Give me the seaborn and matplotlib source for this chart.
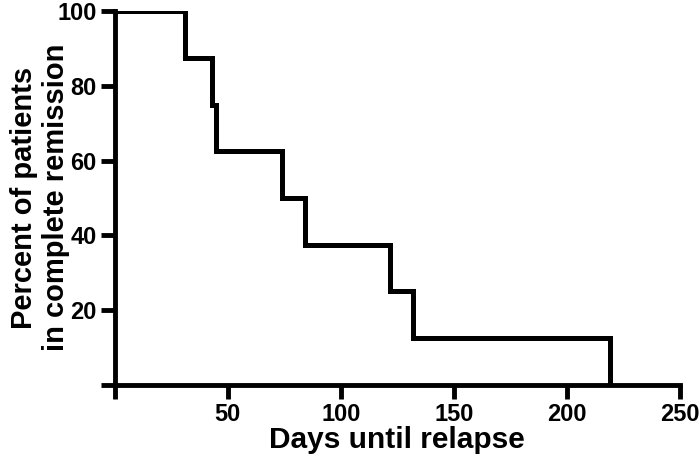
import numpy as np
import pandas as pd
import matplotlib
matplotlib.use("Agg")
import matplotlib.pyplot as plt
import seaborn as sns

# Kaplan-Meier steps
days = [0, 31, 43, 45, 74, 84, 122, 132, 219]
percent = [100, 87.5, 75, 62.5, 50, 37.5, 25, 12.5, 0]

x_ticks = [0, 50, 100, 150, 200, 250]
x_labels = ["", "50", "100", "150", "200", "250"]
y_ticks = [0, 20, 40, 60, 80, 100]
y_labels = ["", "20", "40", "60", "80", "100"]

sns.set_theme(style="ticks")
plt.rcParams["font.family"] = ["Liberation Sans", "DejaVu Sans"]
plt.rcParams["font.weight"] = "bold"
plt.rcParams["text.color"] = "black"
plt.rcParams["axes.labelcolor"] = "black"
plt.rcParams["xtick.color"] = "black"
plt.rcParams["ytick.color"] = "black"

df = pd.DataFrame({"days": days, "percent": percent})

fig = plt.figure(figsize=(7, 4.62), dpi=100)
ax = fig.add_axes([0.164, 0.167, 0.807, 0.809])

sns.lineplot(data=df, x="days", y="percent", ax=ax, color="black",
             linewidth=3.6, drawstyle="steps-post", solid_joinstyle="miter")

ax.set_xlim(0, 250)
ax.set_ylim(0, 100)
ax.set_xticks(x_ticks)
ax.set_xticklabels(x_labels)
ax.set_yticks(y_ticks)
ax.set_yticklabels(y_labels)

for side in ["top", "right"]:
    ax.spines[side].set_visible(False)
for side in ["left", "bottom"]:
    ax.spines[side].set_linewidth(3.5)
    ax.spines[side].set_color("black")

ax.tick_params(axis="both", length=10, width=3.5, color="black",
               labelsize=17, pad=3)
for lab in ax.get_xticklabels() + ax.get_yticklabels():
    lab.set_fontweight("bold")

ax.set_xlabel("Days until relapse", fontsize=21.5, fontweight="bold", labelpad=0)
ax.set_ylabel("")
fig.text(0.057, 0.572, "Percent of patients\nin complete remission",
         rotation=90, ha="center", va="center", fontsize=21,
         fontweight="bold", linespacing=1.15)

fig.savefig("out.png", dpi=100, facecolor="white")
